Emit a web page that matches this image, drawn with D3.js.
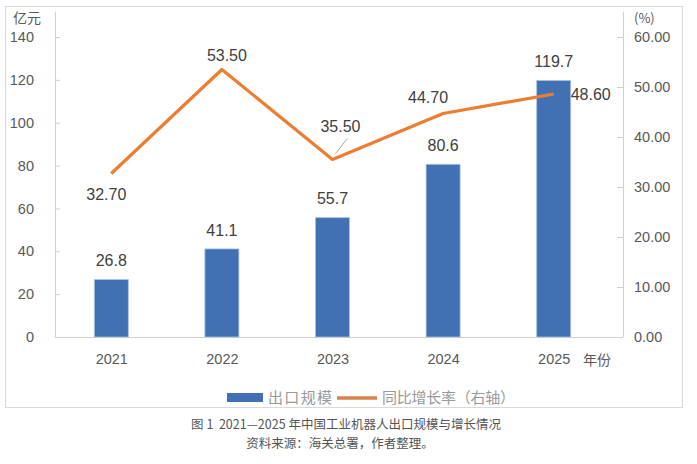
<!DOCTYPE html>
<html>
<head>
<meta charset="utf-8">
<script src="https://cdn.jsdelivr.net/npm/d3@7"></script>
<style>
  html, body { margin: 0; padding: 0; background: #fff; }
  svg { display: block; }
  text { white-space: pre; }
</style>
</head>
<body>
<div id="chart"></div>
<script>
// data
var years = ['2021', '2022', '2023', '2024', '2025'];
var exportScale = [26.8, 41.1, 55.7, 80.6, 119.7];      // 亿元, bars
var growthRate = [32.70, 53.50, 35.50, 44.70, 48.60];   // %, right axis
var leftTicks = [0, 20, 40, 60, 80, 100, 120, 140];
var rightTicks = [0, 10, 20, 30, 40, 50, 60];

// label nudges for the line values (dx, dy from the point)
var rateLabelShift = [[-5, 21], [5, -14], [8, -33], [-15, -16], [37, 0]];

var W = 697, H = 464;
var numFont = '"Liberation Sans", Arial, sans-serif';
var cjkFont = '"Noto Sans CJK SC", "Noto Sans", sans-serif';

var svg = d3.select('#chart').append('svg')
    .attr('width', W)
    .attr('height', H);

// outer frame
svg.append('rect')
    .attr('x', 5.5).attr('y', 6.5)
    .attr('width', 677).attr('height', 401)
    .attr('fill', '#fff')
    .attr('stroke', '#d9d9d9');

var x = d3.scalePoint().domain(years).range([56, 609]).padding(0.5);
var yL = d3.scaleLinear().domain([0, 140]).range([337, 37]);
var yR = d3.scaleLinear().domain([0, 60]).range([337, 37]);
var barW = 34;

var axisColor = '#d0d0d0', tickText = '#595959', valText = '#404040';

// axes
var gL = svg.append('g').attr('transform', 'translate(55,0)')
    .call(d3.axisLeft(yL).tickValues(leftTicks).tickSize(-5).tickPadding(21));
var gR = svg.append('g').attr('transform', 'translate(623,0)')
    .call(d3.axisRight(yR).tickValues(rightTicks).tickSize(-6).tickPadding(11)
      .tickFormat(d3.format('.2f')));
[gL, gR].forEach(function(g) {
  g.select('.domain').remove();
  g.selectAll('.tick line').attr('stroke', axisColor);
  g.selectAll('.tick text')
    .attr('fill', tickText)
    .style('font-family', numFont)
    .style('font-size', '14.5px');
});
gL.selectAll('.tick').filter(function(d) { return d === 0; }).select('line').remove();
gR.selectAll('.tick').filter(function(d) { return d === 0; }).select('line').remove();

svg.append('line').attr('x1', 55.5).attr('x2', 55.5).attr('y1', 12).attr('y2', 337)
    .attr('stroke', axisColor);
svg.append('line').attr('x1', 623.5).attr('x2', 623.5).attr('y1', 12).attr('y2', 337)
    .attr('stroke', axisColor);
svg.append('line').attr('x1', 55).attr('x2', 623).attr('y1', 337.5).attr('y2', 337.5)
    .attr('stroke', axisColor);

// axis titles
svg.append('text').attr('x', 13).attr('y', 23)
    .attr('fill', tickText).style('font-family', cjkFont).style('font-size', '14px')
    .text('亿元');
svg.append('text').attr('x', 634).attr('y', 23)
    .attr('fill', tickText).style('font-family', cjkFont).style('font-size', '13px')
    .text('(%)');

// x labels
var gX = svg.append('g').attr('transform', 'translate(0,337)')
    .call(d3.axisBottom(x).tickSize(0).tickPadding(17));
gX.select('.domain').remove();
gX.selectAll('.tick text')
    .attr('fill', tickText)
    .style('font-family', numFont)
    .style('font-size', '14.5px');
svg.append('text').attr('x', 597).attr('y', 365).attr('text-anchor', 'middle')
    .attr('fill', tickText).style('font-family', cjkFont).style('font-size', '14px')
    .text('年份');

// bars
svg.selectAll('rect.bar').data(exportScale).enter().append('rect')
    .attr('class', 'bar')
    .attr('x', function(d, i) { return x(years[i]) - barW / 2; })
    .attr('y', function(d) { return yL(d); })
    .attr('width', barW)
    .attr('height', function(d) { return yL(0) - yL(d); })
    .attr('fill', '#4271b3')
    .attr('stroke', '#a9c3e6')
    .attr('stroke-width', 0.8);

svg.selectAll('text.barlbl').data(exportScale).enter().append('text')
    .attr('class', 'barlbl')
    .attr('x', function(d, i) { return x(years[i]); })
    .attr('y', function(d) { return yL(d) - 19; })
    .attr('dy', '0.35em')
    .attr('text-anchor', 'middle')
    .attr('fill', valText)
    .style('font-family', numFont)
    .style('font-size', '16px')
    .text(function(d) { return d.toFixed(1); });

// growth line
var line = d3.line()
    .x(function(d, i) { return x(years[i]); })
    .y(function(d) { return yR(d); });
svg.append('path').datum(growthRate)
    .attr('d', line)
    .attr('fill', 'none')
    .attr('stroke', '#ed7d31')
    .attr('stroke-width', 3.2)
    .attr('stroke-linejoin', 'round');

// leader line for 2023
svg.append('line')
    .attr('x1', x('2023') + 3).attr('y1', yR(growthRate[2]) - 6)
    .attr('x2', x('2023') + 15).attr('y2', yR(growthRate[2]) - 21)
    .attr('stroke', '#a6a6a6').attr('stroke-width', 1);

svg.selectAll('text.ratelbl').data(growthRate).enter().append('text')
    .attr('class', 'ratelbl')
    .attr('x', function(d, i) { return x(years[i]) + rateLabelShift[i][0]; })
    .attr('y', function(d, i) { return yR(d) + rateLabelShift[i][1]; })
    .attr('dy', '0.35em')
    .attr('text-anchor', 'middle')
    .attr('fill', valText)
    .style('font-family', numFont)
    .style('font-size', '16px')
    .text(function(d) { return d.toFixed(2); });

// legend
var lg = svg.append('g');
lg.append('rect').attr('x', 227).attr('y', 393).attr('width', 36).attr('height', 9)
    .attr('fill', '#4271b3');
lg.append('text').attr('x', 268).attr('y', 398).attr('dy', '0.35em')
    .attr('fill', '#999').style('font-family', cjkFont).style('font-size', '15px')
    .attr('textLength', 64)
    .text('出口规模');
lg.append('line').attr('x1', 337).attr('x2', 377).attr('y1', 398).attr('y2', 398)
    .attr('stroke', '#d9844b').attr('stroke-width', 3.5);
lg.append('text').attr('x', 382).attr('y', 398).attr('dy', '0.35em')
    .attr('fill', '#999').style('font-family', cjkFont).style('font-size', '15px')
    .attr('textLength', 133)
    .text('同比增长率（右轴）');

// caption
svg.append('text').attr('x', 346).attr('y', 425).attr('dy', '0.35em')
    .attr('text-anchor', 'middle')
    .attr('fill', '#555').style('font-family', cjkFont).style('font-size', '12.5px')
    .text('图 1  2021—2025 年中国工业机器人出口规模与增长情况');
svg.append('text').attr('x', 340).attr('y', 444).attr('dy', '0.35em')
    .attr('text-anchor', 'middle')
    .attr('fill', '#555').style('font-family', cjkFont).style('font-size', '12.5px')
    .text('资料来源：海关总署，作者整理。');
</script>
</body>
</html>
